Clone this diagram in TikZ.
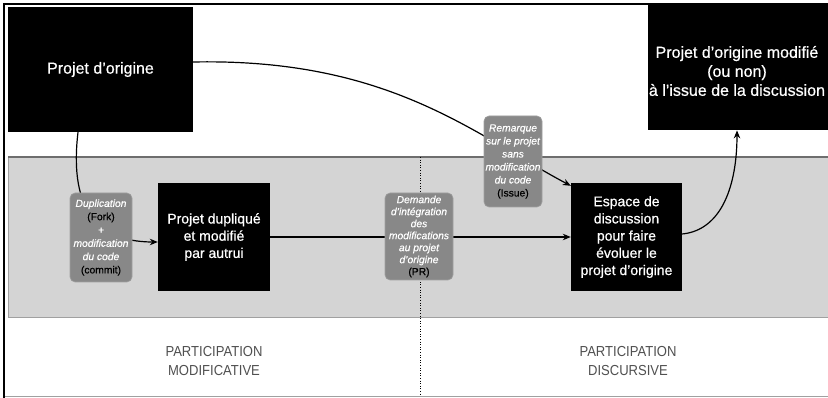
\documentclass[tikz,border=0pt]{standalone}
\usepackage{fontspec}
\setmainfont{Liberation Sans}
\newfontfamily\medfont{Liberation Sans}[FakeBold=0.6, ItalicFeatures={FakeBold=0.6}]
\newfontfamily\catfont{Liberation Sans}[FakeStretch=0.9]
\usetikzlibrary{arrows.meta,calc}
\definecolor{bandfill}{HTML}{D4D4D4}
\definecolor{bandline}{HTML}{6E6E6E}
\definecolor{tagfill}{HTML}{888888}
\definecolor{tagline}{HTML}{A0A0A0}
\definecolor{cattext}{HTML}{505050}
\pgfdeclarelayer{bg}
\pgfdeclarelayer{edges}
\pgfsetlayers{bg,edges,main}
\tikzset{
  bigbox/.style={fill=black, text=white, align=center, inner sep=0pt, font=\medfont\fontsize{16}{19}\selectfont},
  midbox/.style={fill=black, text=white, align=center, inner sep=0pt, font=\medfont\fontsize{14}{17.2}\selectfont},
  tagbox/.style={fill=tagfill, draw=tagline, line width=0.6pt, rounded corners=5pt, align=center, inner sep=0pt, text=white},
  conn/.style={line width=1.2pt, -{Stealth[length=8pt,width=6.5pt]}},
  cat/.style={align=center, text=cattext, font=\catfont\fontsize{14.5}{19}\selectfont},
}
\newcommand{\blk}[1]{{\upshape\color{black}#1}}
\begin{document}
\begin{tikzpicture}[x=1pt,y=-1pt]
\useasboundingbox (0,0) rectangle (828,398);
% nodes
\node[bigbox, minimum width=185, minimum height=125] (orig) at (100.5,69.5) {Projet d’origine};
\node[bigbox, minimum width=186, minimum height=125, anchor=north west] (final) at (648,5) {};
\node[text=white, align=center, inner sep=0pt, font=\medfont\fontsize{16}{19}\selectfont] (finaltxt) at (737,71) {Projet d’origine modifié\\(ou non)\\à l’issue de la discussion};
\node[midbox, minimum width=112, minimum height=108] (dup) at (214,237) {Projet dupliqué\\et modifié\\par autrui};
\node[midbox, minimum width=111, minimum height=108] (esp) at (626.5,237) {Espace de\\discussion\\pour faire\\évoluer le\\projet d’origine};
\node[tagbox, minimum width=62, minimum height=89, font=\medfont\fontsize{10.3}{13.3}\selectfont\itshape] (dupl) at (101,237.5) {Duplication\\\blk{(Fork)}\\+\\modification\\du code\\\blk{(commit)}};
\node[tagbox, minimum width=68, minimum height=87, font=\medfont\fontsize{10.3}{12}\selectfont\itshape] (dem) at (419,236.5) {Demande\\d’intégration\\des\\modifications\\au projet\\d’origine\\\blk{(PR)}};
\node[tagbox, minimum width=58, minimum height=91, font=\medfont\fontsize{10.3}{13}\selectfont\itshape] (rem) at (513,161.5) {Remarque\\sur le projet\\sans\\modification\\du code\\\blk{(Issue)}};
\node[cat] (pm) at (214,361.5) {PARTICIPATION\\MODIFICATIVE};
\node[cat] (pd) at (628,361.5) {PARTICIPATION\\DISCURSIVE};
% background
\begin{pgfonlayer}{bg}
  \fill[white] (0,0) rectangle (828,398);
  \filldraw[fill=bandfill, draw=tagline, line width=0.8pt] (8,157) rectangle (832,317);
  \draw[bandline, line width=1.5pt] (8,157) -- (832,157);
  \draw[tagline, line width=1pt] (4,396.5) -- (832,396.5);
  \draw[black, line width=1.5pt] (4,398) -- (4,4) -- (832,4);
  \draw[black, line width=0.6pt, dotted] (420,157) -- (420,396);
\end{pgfonlayer}
% connectors
\begin{pgfonlayer}{edges}
  \draw[conn] ($(orig.south)+(-22.5,0)$) .. controls (70,200) and (90,242) .. ($(dup.west)+(0,5)$);
  \draw[conn] (dup.east) -- (esp.west);
  \draw[conn] ($(orig.east)+(0,-7.5)$) .. controls (390,58) and (475,135) .. ($(esp.north west)+(0,3)$);
  \draw[conn] ($(esp.east)+(0,-3)$) .. controls (722,230) and (737,185) .. (finaltxt |- final.south);
\end{pgfonlayer}
\end{tikzpicture}
\end{document}
